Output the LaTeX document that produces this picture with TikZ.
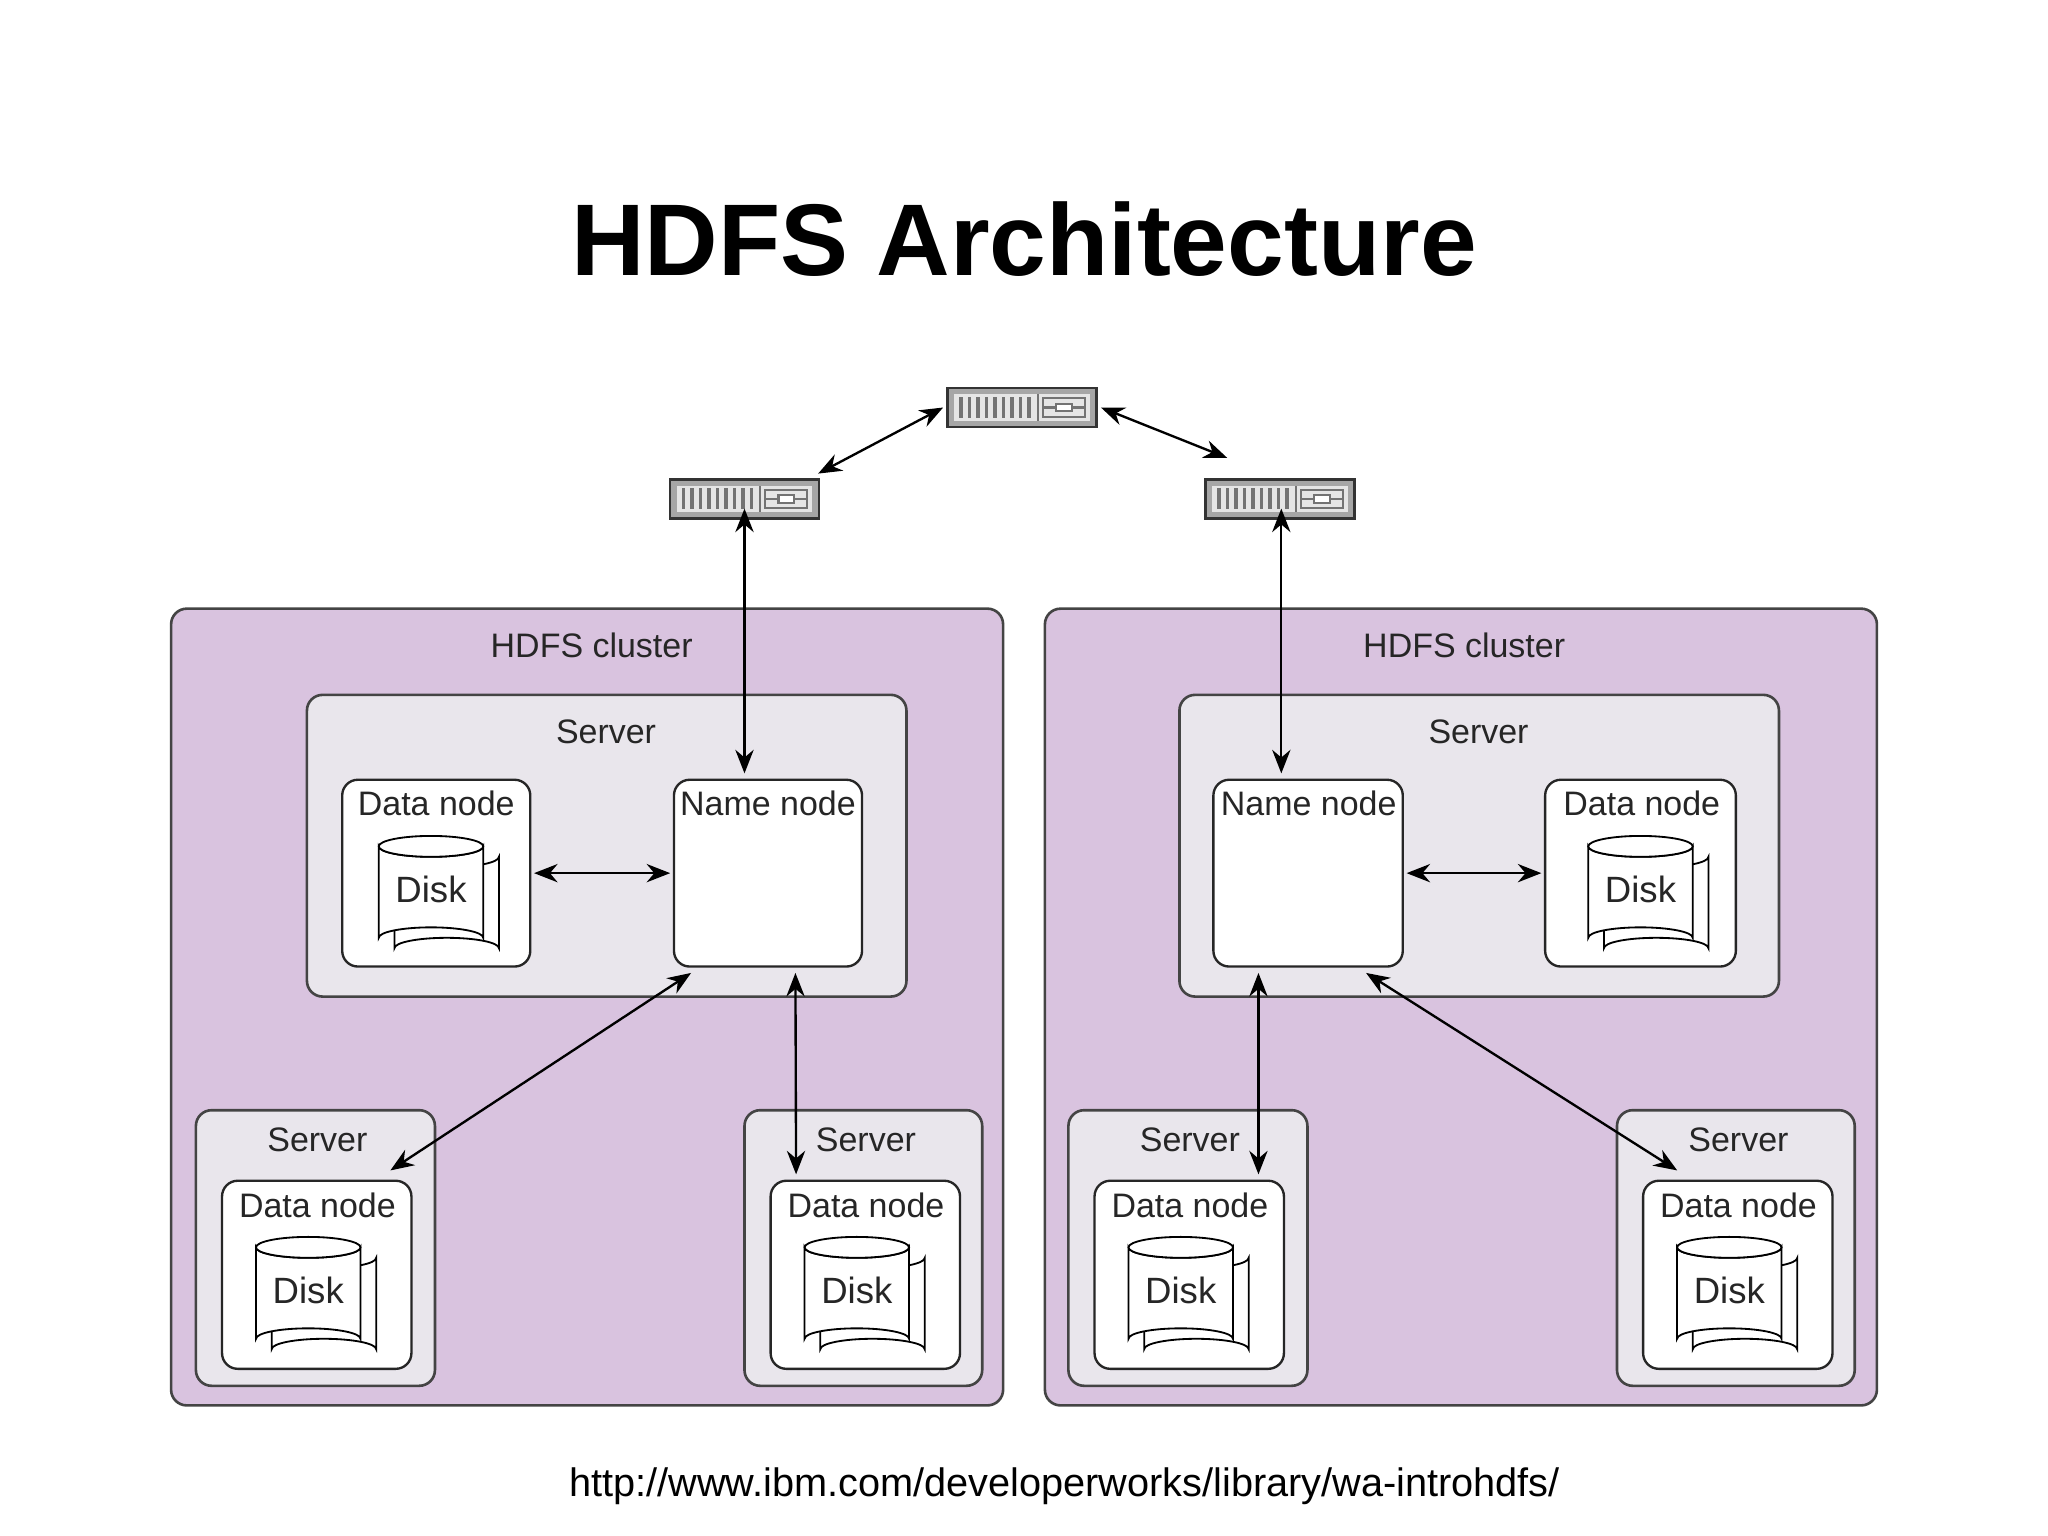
\documentclass[tikz,border=0pt]{standalone}
\usepackage{fontspec}
\setmainfont{Liberation Sans}
\usetikzlibrary{arrows.meta,calc}
\definecolor{lav}{HTML}{D9C3DF}
\definecolor{srv}{HTML}{E9E6EC}
\definecolor{edge}{HTML}{444444}
\tikzset{
  cluster/.style={draw=edge,line width=1pt,fill=lav,rounded corners=6pt,inner sep=0},
  server/.style={draw=edge,line width=1pt,fill=srv,rounded corners=6pt,inner sep=0},
  wbox/.style={draw=black!85,line width=0.9pt,fill=white,rounded corners=6pt,inner sep=0},
  lbl/.style={font=\fontsize{13}{15}\selectfont,text=black!85,inner sep=0},
  con/.style={<->,line width=0.9pt,>={Stealth[length=9pt,width=7pt]}},
  sw/.style={minimum width=58pt,minimum height=15pt,inner sep=0},
  pics/disk/.style={code={
    \draw[line width=0.7pt,fill=white] (-28,-27) -- (-28,43) arc[start angle=180,end angle=360,x radius=40,y radius=8] -- (52,-27) arc[start angle=0,end angle=180,x radius=40,y radius=8] -- cycle;
    \draw[line width=0.7pt,fill=white] (-40,-35) -- (-40,35) arc[start angle=180,end angle=360,x radius=40,y radius=8] -- (40,-35) arc[start angle=0,end angle=180,x radius=40,y radius=8] -- cycle;
    \draw[line width=0.7pt,fill=white] (0,-35) ellipse[x radius=40,y radius=8];
    \node[lbl,font=\fontsize{14}{16}\selectfont] at (0,-2) {Disk};
  }},
  pics/switch/.style={code={
    \fill[black!80] (-58,-16) rectangle (58,16);
    \fill[black!35] (-56,-14) rectangle (56,14);
    \fill[black!10] (-52,-10) rectangle (52,10);
    \foreach \i in {0,...,8} {\fill[black!55] (-48+\i*6.5,-8) rectangle (-45.5+\i*6.5,8);}
    \draw[black!55,line width=0.8pt] (12,-10) -- (12,10);
    \draw[black!55,line width=0.8pt] (16,-7) rectangle (48,7);
    \draw[black!55,line width=0.8pt] (16,0) -- (26,0) (38,0) -- (48,0);
    \draw[black!55,line width=0.8pt,fill=white] (26,-3) rectangle (38,3);
  }}
}
\begin{document}
\begin{tikzpicture}[x=0.5pt,y=-0.5pt]
\useasboundingbox[fill=white] (0,0) rectangle (1568,1176);
\node[font=\fontsize{39}{44}\selectfont\bfseries] (title) at (784,183) {HDFS Architecture};
\node[font=\fontsize{15.2}{18}\selectfont] (url) at (815,1138) {http://www.ibm.com/developerworks/library/wa-introhdfs/};

% switches
\node[sw] (swt) at (782.5,312) {};
\node[sw] (swl) at (570,382) {};
\node[sw] (swr) at (980,382) {};
\pic at (782.5,312) {switch};
\pic at (570,382) {switch};
\pic at (980,382) {switch};

% clusters
\node[cluster,minimum width=318.5pt,minimum height=305pt] (clL) at (449.5,771) {};
\node[lbl,anchor=north] (cllL) at (453,484) {HDFS cluster};
\node[cluster,minimum width=318.5pt,minimum height=305pt] (clR) at (1118.5,771) {};
\node[lbl,anchor=north] (cllR) at (1121,484) {HDFS cluster};

% left cluster
\node[server,minimum width=229.5pt,minimum height=115.5pt] (stL) at (464.5,647.5) {};
\node[lbl] (stLl) at (464,560) {Server};
\node[wbox,minimum width=72pt,minimum height=71.5pt] (dnL) at (334,668.5) {};
\node[lbl] at (334,615) {Data node};
\pic at (330,683) {disk};
\node[wbox,minimum width=72pt,minimum height=71.5pt] (nnL) at (588,668.5) {};
\node[lbl] at (588,615) {Name node};

\node[server,minimum width=91.5pt,minimum height=105.5pt] (sb1) at (241.5,955.5) {};
\node[lbl] at (243,873) {Server};
\node[wbox,minimum width=72.5pt,minimum height=72pt] (db1) at (242.5,976) {};
\node[lbl] at (243,923) {Data node};
\pic at (236,990) {disk};

\node[server,minimum width=91pt,minimum height=105.5pt] (sb2) at (661,955.5) {};
\node[lbl] at (663,873) {Server};
\node[wbox,minimum width=72.5pt,minimum height=72pt] (db2) at (662.5,976) {};
\node[lbl] at (663,923) {Data node};
\pic at (656,990) {disk};

% right cluster
\node[server,minimum width=229.5pt,minimum height=115.5pt] (stR) at (1132.5,647.5) {};
\node[lbl] at (1132,560) {Server};
\node[wbox,minimum width=72.5pt,minimum height=71.5pt] (nnR) at (1001.5,668.5) {};
\node[lbl] at (1002,615) {Name node};
\node[wbox,minimum width=73pt,minimum height=71.5pt] (dnR) at (1256,668.5) {};
\node[lbl] at (1257,615) {Data node};
\pic at (1256,683) {disk};

\node[server,minimum width=91.5pt,minimum height=105.5pt] (sb3) at (909.5,955.5) {};
\node[lbl] at (911,873) {Server};
\node[wbox,minimum width=72.5pt,minimum height=72pt] (db3) at (910.5,976) {};
\node[lbl] at (911,923) {Data node};
\pic at (904,990) {disk};

\node[server,minimum width=91pt,minimum height=105.5pt] (sb4) at (1329,955.5) {};
\node[lbl] at (1331,873) {Server};
\node[wbox,minimum width=72.5pt,minimum height=72pt] (db4) at (1330.5,976) {};
\node[lbl] at (1331,923) {Data node};
\pic at (1324,990) {disk};

% connectors
\draw[con] ($(swl.north east)+(-2,-4)$) -- ($(swt.west)+(-2,0)$);
\draw[con] ($(swt.east)+(2,0)$) -- ($(swr.north west)+(18,-16)$);
\draw[con] ($(swl.south)+(0,-8)$) -- ($(swl.south |- nnL.north)+(0,-4)$);
\draw[con] ($(swr.south)+(1,-8)$) -- ($(swr.south |- nnR.north)+(1,-4)$);
\draw[con] ($(dnL.east)+(2,0)$) -- ($(nnL.west)+(-2,0)$);
\draw[con] ($(nnR.east)+(2,0)$) -- ($(dnR.west)+(-2,0)$);
\draw[con] ($(nnL.south west)+(14,4)$) -- ($(db1.north east)+(-17,-7)$);
\draw[con] ($(nnL.south)+(21,4)$) -- ($(db2.north)+(-53,-4)$);
\draw[con] ($(nnR.south)+(-38,4)$) -- ($(db3.north)+(53,-4)$);
\draw[con] ($(nnR.south east)+(-29,4)$) -- ($(db4.north west)+(27,-7)$);
\end{tikzpicture}
\end{document}
